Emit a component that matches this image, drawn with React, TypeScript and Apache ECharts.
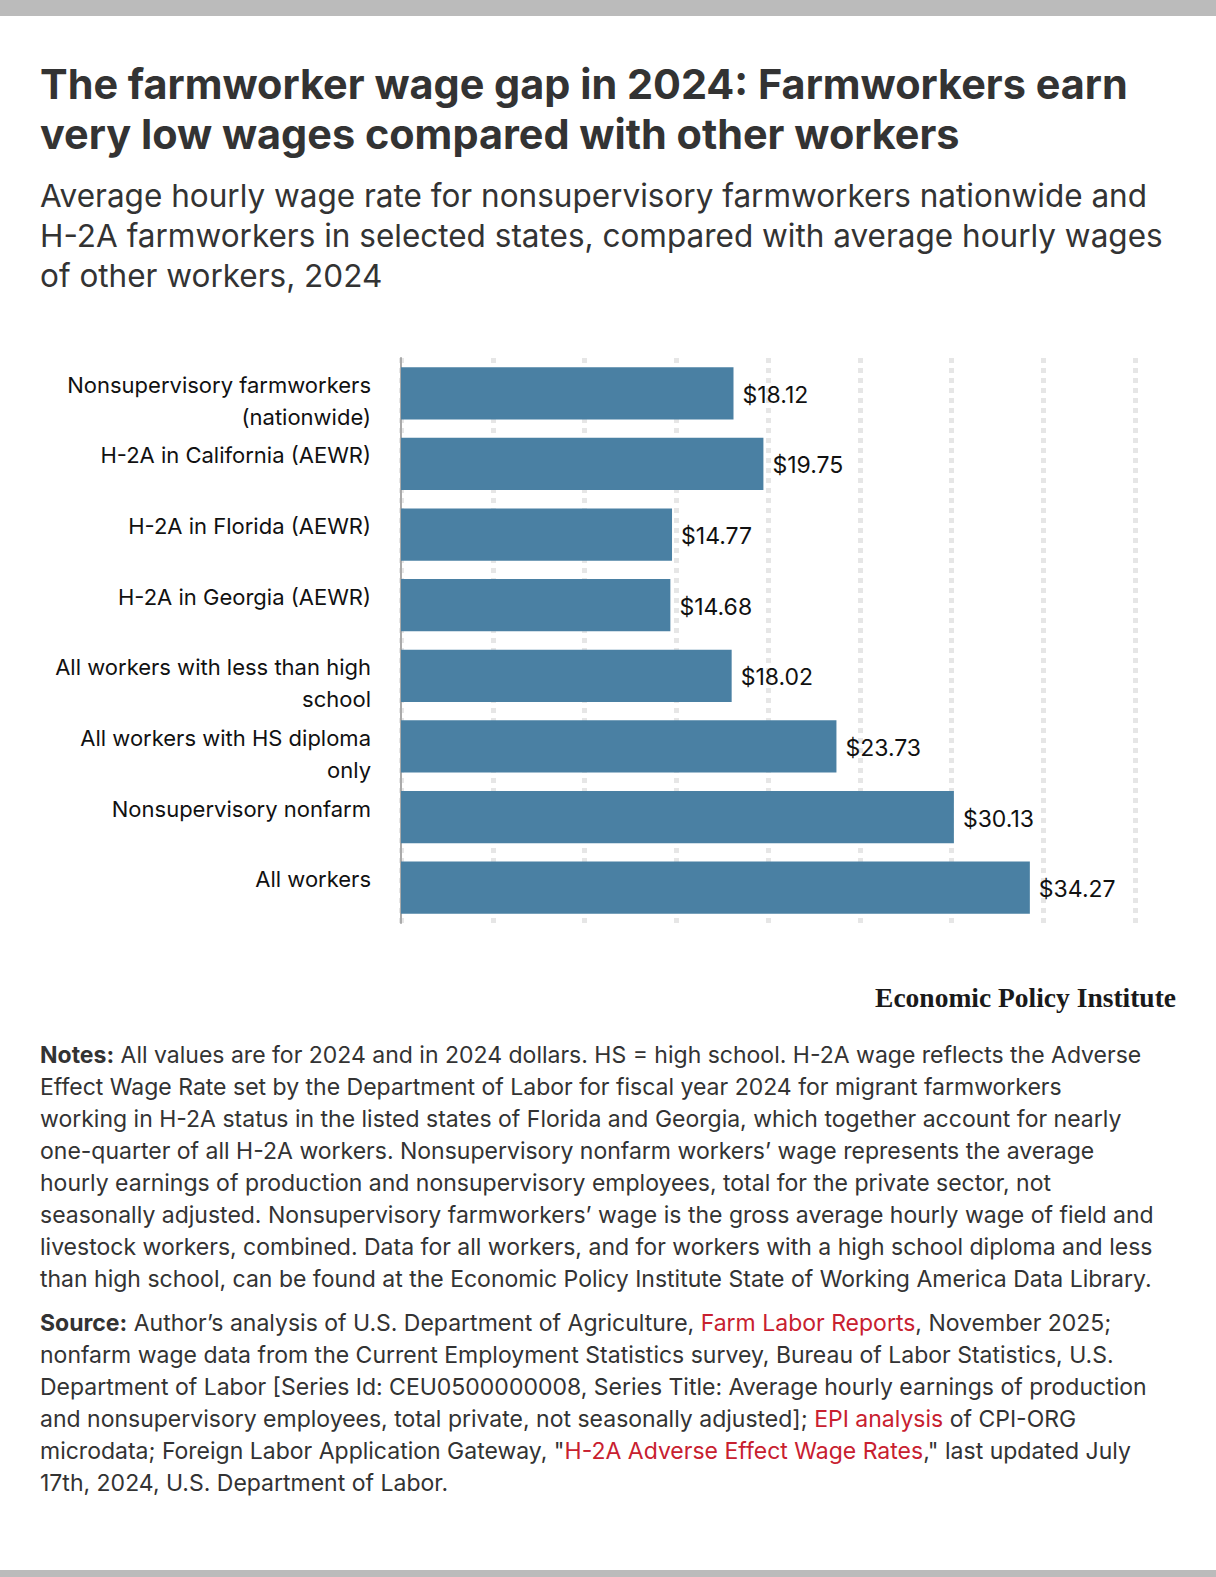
import React, { useEffect, useRef } from 'react';
import * as echarts from 'echarts';

const categories = [
  'Nonsupervisory farmworkers\n(nationwide)',
  'H-2A in California (AEWR)',
  'H-2A in Florida (AEWR)',
  'H-2A in Georgia (AEWR)',
  'All workers with less than high\nschool',
  'All workers with HS diploma\nonly',
  'Nonsupervisory nonfarm',
  'All workers',
];
const wages = [18.12, 19.75, 14.77, 14.68, 18.02, 23.73, 30.13, 34.27];
const xMin = 0;
const xMax = 40;
const xInterval = 5;

const titleLines = [
  'The farmworker wage gap in 2024: Farmworkers earn',
  'very low wages compared with other workers',
];
const subtitleLines = [
  'Average hourly wage rate for nonsupervisory farmworkers nationwide and',
  'H-2A farmworkers in selected states, compared with average hourly wages',
  'of other workers, 2024',
];
const notesLines = [
  '{b|Notes:} All values are for 2024 and in 2024 dollars. HS = high school. H-2A wage reflects the Adverse',
  'Effect Wage Rate set by the Department of Labor for fiscal year 2024 for migrant farmworkers',
  'working in H-2A status in the listed states of Florida and Georgia, which together account for nearly',
  'one-quarter of all H-2A workers. Nonsupervisory nonfarm workers\u2019 wage represents the average',
  'hourly earnings of production and nonsupervisory employees, total for the private sector, not',
  'seasonally adjusted. Nonsupervisory farmworkers\u2019 wage is the gross average hourly wage of field and',
  'livestock workers, combined. Data for all workers, and for workers with a high school diploma and less',
  'than high school, can be found at the Economic Policy Institute State of Working America Data Library.',
];
const sourceLines = [
  '{b|Source:} Author\u2019s analysis of U.S. Department of Agriculture, {r|Farm Labor Reports}, November 2025;',
  'nonfarm wage data from the Current Employment Statistics survey, Bureau of Labor Statistics, U.S.',
  'Department of Labor [Series Id: CEU0500000008, Series Title: Average hourly earnings of production',
  'and nonsupervisory employees, total private, not seasonally adjusted]; {r|EPI analysis} of CPI-ORG',
  'microdata; Foreign Labor Application Gateway, "{r|H-2A Adverse Effect Wage Rates}," last updated July',
  '17th, 2024, U.S. Department of Labor.',
];
const brand = 'Economic Policy Institute';

const FONT = 'Inter, "Open Sans", sans-serif';
const TEXT = '#333333';
const RED = '#c8202f';

export default function App() {
  const ref = useRef<HTMLDivElement>(null);
  useEffect(() => {
    if (!ref.current) return;
    const chart = echarts.init(ref.current, null, { renderer: 'svg', width: 1216, height: 1577 });
    const noteFont = { fontFamily: FONT, fontSize: 23, lineHeight: 32 };
    const lineText = (text: string, x: number, y: number, extra: any) => ({
      type: 'text',
      x,
      y,
      style: { text, fontFamily: FONT, fill: TEXT, align: 'left', verticalAlign: 'middle', ...extra },
    });
    chart.setOption({
      animation: false,
      backgroundColor: '#ffffff',
      grid: { left: 401, top: 358, width: 734, height: 565, containLabel: false },
      xAxis: {
        type: 'value',
        min: xMin,
        max: xMax,
        interval: xInterval,
        axisLabel: { show: false },
        axisLine: { show: false },
        axisTick: { show: false },
        splitLine: { show: true, lineStyle: { color: '#e6e6e6', width: 5, type: [5, 5] } },
      },
      yAxis: {
        type: 'category',
        inverse: true,
        data: categories,
        axisLine: { show: true, lineStyle: { color: '#aaaaaa', width: 2 } },
        axisTick: { show: false },
        splitLine: { show: false },
        axisLabel: {
          margin: 30,
          color: '#111111',
          fontFamily: FONT,
          fontSize: 22,
          lineHeight: 32,
          align: 'right',
          formatter: (v: string) => (v.includes('\n') ? '{t|}\n' + v : v + '\n{u|}'),
          rich: {
            t: { height: 15, lineHeight: 15, fontSize: 1 },
            u: { height: 17, lineHeight: 17, fontSize: 1 },
          },
        },
      },
      series: [
        {
          type: 'bar',
          data: wages,
          barCategoryGap: '26%',
          itemStyle: { color: '#4a80a3' },
          z: 1,
          label: {
            show: true,
            position: 'right',
            distance: 9,
            offset: [0, 1.5],
            color: '#111111',
            fontFamily: FONT,
            fontSize: 23,
            formatter: (p: any) => '$' + Number(p.value).toFixed(2),
          },
        },
      ],
      graphic: [
        { type: 'rect', shape: { x: 0, y: 0, width: 1216, height: 16 }, style: { fill: '#bbbbbb' } },
        { type: 'rect', shape: { x: 0, y: 1570, width: 1216, height: 7 }, style: { fill: '#bbbbbb' } },
        ...titleLines.map((t, i) => lineText(t, 40, 83.5 + i * 50, { fontWeight: 'bold', fontSize: 41.4 })),
        ...subtitleLines.map((t, i) => lineText(t, 40, 195 + i * 40, { fontSize: 31.5 })),
        {
          type: 'text',
          x: 1176,
          y: 997,
          style: {
            text: brand,
            fontFamily: '"Liberation Serif", serif',
            fontWeight: 'bold',
            fontSize: 27.5,
            fill: '#1a1a1a',
            align: 'right',
            verticalAlign: 'middle',
          },
        },
        {
          type: 'text',
          x: 40,
          y: 1039,
          style: {
            text: notesLines.join('\n'),
            ...noteFont,
            fill: TEXT,
            align: 'left',
            verticalAlign: 'top',
            rich: {
              b: { ...noteFont, fontWeight: 'bold', fill: TEXT },
              r: { ...noteFont, fill: RED },
            },
          },
        },
        {
          type: 'text',
          x: 40,
          y: 1306.5,
          style: {
            text: sourceLines.join('\n'),
            ...noteFont,
            fill: TEXT,
            align: 'left',
            verticalAlign: 'top',
            rich: {
              b: { ...noteFont, fontWeight: 'bold', fill: TEXT },
              r: { ...noteFont, fill: RED },
            },
          },
        },
      ],
    });
    return () => chart.dispose();
  }, []);
  return (
    <div
      ref={ref}
      style={{ position: 'absolute', left: 0, top: 0, width: 1216, height: 1577, background: '#fff' }}
    />
  );
}
